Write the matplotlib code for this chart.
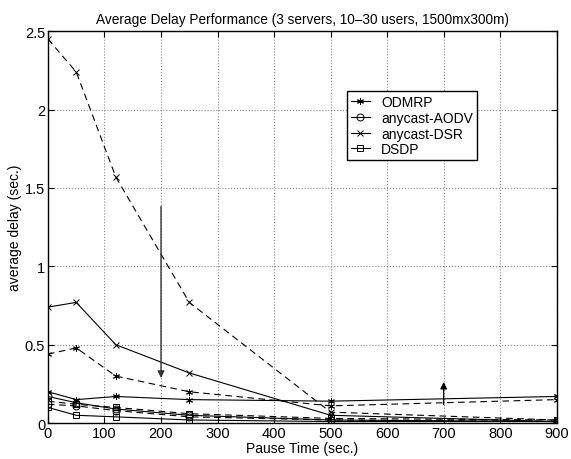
import numpy as np
import matplotlib
matplotlib.use('Agg')
import matplotlib.pyplot as plt

plt.rcParams['font.family'] = ['Liberation Sans', 'DejaVu Sans']

# pause times (sec.)
pause = [0, 50, 120, 250, 500, 900]

# solid lines
odmrp_a = [0.20, 0.15, 0.17, 0.15, 0.14, 0.17]
aodv_a = [0.17, 0.13, 0.09, 0.05, 0.02, 0.01]
dsr_a = [0.74, 0.77, 0.50, 0.32, 0.05, 0.01]
dsdp_a = [0.10, 0.05, 0.04, 0.02, 0.01, 0.01]

# dashed lines
odmrp_b = [0.44, 0.48, 0.30, 0.20, 0.11, 0.15]
aodv_b = [0.12, 0.11, 0.08, 0.04, 0.02, 0.01]
dsr_b = [2.45, 2.24, 1.57, 0.77, 0.07, 0.02]
dsdp_b = [0.14, 0.12, 0.10, 0.06, 0.03, 0.02]

names = ['ODMRP', 'anycast-AODV', 'anycast-DSR', 'DSDP']
markers = [(6, 2, 0), 'o', 'x', 's']

fig = plt.figure(figsize=(5.71, 4.60), dpi=100)
ax = fig.add_axes([0.084, 0.078, 0.891, 0.852])

solid = [odmrp_a, aodv_a, dsr_a, dsdp_a]
dashed = [odmrp_b, aodv_b, dsr_b, dsdp_b]
handles = []
for i in range(4):
    h, = ax.plot(pause, solid[i], '-', color='k', lw=0.8, marker=markers[i],
                 ms=5, mfc='none', mec='k', mew=0.7)
    ax.plot(pause, dashed[i], '--', color='k', lw=0.8, marker=markers[i],
            ms=5, mfc='none', mec='k', mew=0.7, dashes=(6, 4))
    handles.append(h)

# arrows
ax.annotate('', xy=(200, 0.27), xytext=(200, 1.40),
            arrowprops=dict(arrowstyle='-|>', color='#333333', lw=1.0, mutation_scale=10))
ax.annotate('', xy=(700, 0.28), xytext=(700, 0.10),
            arrowprops=dict(arrowstyle='-|>', color='k', lw=0.9, mutation_scale=10))

ax.set_xlim(0, 900)
ax.set_ylim(0, 2.5)
ax.set_xticks([0, 100, 200, 300, 400, 500, 600, 700, 800, 900])
ax.set_yticks([0, 0.5, 1, 1.5, 2, 2.5])
ax.set_yticklabels(['0', '0.5', '1', '1.5', '2', '2.5'])
ax.grid(True, linestyle=':', color='#888888', lw=0.8)
ax.tick_params(direction='in', top=True, right=True, labelsize=10.5, length=4, pad=2)
for s in ax.spines.values():
    s.set_linewidth(1.0)

ax.set_xlabel('Pause Time (sec.)', fontsize=10, labelpad=1)
ax.set_ylabel('average delay (sec.)', fontsize=10, labelpad=2)
ax.set_title('Average Delay Performance (3 servers, 10\u201330 users, 1500mx300m)', fontsize=9.8, pad=6)

leg = ax.legend(handles, names, loc='upper left', bbox_to_anchor=(0.587, 0.847),
                fontsize=10, handlelength=1.4, handletextpad=0.8, labelspacing=0.12,
                borderpad=0.3, borderaxespad=0, fancybox=False, framealpha=1,
                edgecolor='k')
leg.get_frame().set_linewidth(1.0)

fig.savefig('out.png', dpi=100)
